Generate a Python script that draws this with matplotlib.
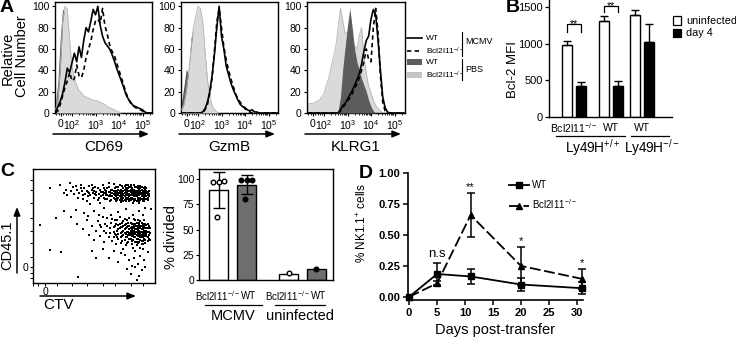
import numpy as np
import matplotlib
matplotlib.use("Agg")
import matplotlib.pyplot as plt
from matplotlib.lines import Line2D
from matplotlib.patches import Rectangle, FancyArrowPatch
from matplotlib import transforms

plt.rcParams.update({
    "font.family": ["Liberation Sans", "DejaVu Sans"],
    "mathtext.fontset": "custom",
    "mathtext.rm": "Liberation Sans",
    "mathtext.it": "Liberation Sans:italic",
    "mathtext.bf": "Liberation Sans:bold",
    "axes.linewidth": 1.0,
})

# ---------------------------------------------------------------- data
# A: flow histograms (% of max); x is the display position on the
# biexponential axis (2 -> 10^2, 3 -> 10^3, ...)
hist_u = np.round(np.arange(1.3, 5.45, 0.1), 2)

cd69_wt_mcmv = [1, 6, 11, 18, 29, 42, 38, 47, 56, 48,
                62, 52, 68, 80, 76, 86, 97, 92, 100, 82,
                72, 66, 63, 60, 55, 49, 42, 36, 30, 24,
                17, 13, 10, 7, 6, 5, 4, 3, 1, 0, 0, 0]
cd69_ko_mcmv = [0, 2, 8, 16, 24, 30, 38, 30, 32, 45,
                35, 33, 40, 52, 60, 67, 78, 86, 88, 84,
                98, 82, 74, 64, 58, 54, 47, 40, 33, 26,
                19, 13, 9, 7, 5, 4, 3, 2, 0, 0, 0, 0]
cd69_wt_pbs = [8, 30, 70, 98, 92, 70, 45, 30, 22, 18,
               15, 13, 12, 11, 10, 9, 8, 7, 6, 5,
               4, 3, 2, 1, 0, 0, 0, 0, 0, 0,
               0, 0, 0, 0, 0, 0, 0, 0, 0, 0, 0, 0]
cd69_ko_pbs = [3, 12, 40, 85, 100, 97, 68, 44, 32, 26,
               21, 19, 16, 15, 14, 13, 12, 12, 11, 10,
               9, 8, 6, 5, 4, 3, 2, 1, 0, 0,
               0, 0, 0, 0, 0, 0, 0, 0, 0, 0, 0, 0]

gzmb_wt_mcmv = [0, 0, 0, 0, 0, 0, 0, 0, 0, 1,
                4, 10, 20, 35, 55, 80, 100, 72, 60, 44,
                36, 28, 22, 17, 12, 8, 6, 5, 3, 2,
                3, 1, 1, 0, 0, 0, 0, 0, 0, 0, 0, 0]
gzmb_ko_mcmv = [0, 0, 0, 0, 0, 0, 0, 0, 0, 0,
                3, 8, 18, 33, 58, 85, 98, 80, 62, 50,
                40, 32, 25, 18, 13, 10, 7, 4, 2, 1,
                0, 0, 0, 0, 0, 0, 0, 0, 0, 0, 0, 0]
gzmb_wt_pbs = [10, 25, 41, 36, 70, 78, 85, 97, 96, 80,
               55, 30, 14, 6, 2, 0, 0, 0, 0, 0,
               0, 0, 0, 0, 0, 0, 0, 0, 0, 0,
               0, 0, 0, 0, 0, 0, 0, 0, 0, 0, 0, 0]
gzmb_ko_pbs = [3, 8, 20, 38, 60, 80, 90, 100, 98, 86,
               58, 32, 16, 7, 3, 1, 0, 0, 0, 0,
               0, 0, 0, 0, 0, 0, 0, 0, 0, 0,
               0, 0, 0, 0, 0, 0, 0, 0, 0, 0, 0, 0]

klrg1_wt_mcmv = [0, 0, 0, 0, 0, 0, 0, 0, 0, 0,
                 0, 0, 0, 0, 3, 7, 9, 13, 17, 21,
                 26, 31, 37, 46, 58, 68, 72, 88, 97, 92,
                 68, 40, 15, 5, 1, 0, 0, 0, 0, 0, 0, 0]
klrg1_ko_mcmv = [0, 0, 0, 0, 0, 0, 0, 0, 0, 0,
                 0, 0, 0, 0, 2, 5, 8, 11, 14, 18,
                 23, 27, 33, 40, 48, 60, 50, 48, 80, 98,
                 75, 35, 10, 2, 0, 0, 0, 0, 0, 0, 0, 0]
klrg1_wt_pbs = [0, 0, 0, 0, 0, 0, 0, 0, 0, 0,
                0, 0, 0, 2, 15, 42, 62, 82, 98, 80,
                60, 48, 40, 32, 26, 20, 12, 6, 2, 0,
                0, 0, 0, 0, 0, 0, 0, 0, 0, 0, 0, 0]
klrg1_ko_pbs = [8, 9, 9, 10, 11, 12, 15, 18, 26, 33,
                43, 52, 62, 80, 98, 86, 74, 76, 72, 67,
                63, 60, 72, 80, 52, 37, 25, 19, 12, 7,
                4, 2, 0, 0, 0, 0, 0, 0, 0, 0, 0, 0]

# B: Bcl-2 MFI
b_groups = ["Bcl2l11$^{-/-}$", "WT", "WT"]
bcl2_uninfected = [980, 1310, 1400]
bcl2_uninfected_sd = [65, 70, 68]
bcl2_day4 = [424, 424, 1030]
bcl2_day4_sd = [55, 73, 242]

# C (left): CTV vs CD45.1 events, display units 0-100
upper_events = [
    (14, 83), (22, 86), (25, 79), (27, 82), (28, 77), (30, 88), (31, 81), (33, 84), (34, 78), (35, 85),
    (36, 82), (37, 75), (38, 79), (39, 86), (40, 81), (41, 74), (42, 83), (43, 78), (44, 72), (45, 80),
    (45, 76), (46, 85), (47, 77), (47, 69), (48, 82), (49, 79), (49, 83), (50, 75), (51, 84), (52, 80),
    (52, 77), (53, 73), (54, 78), (55, 82), (55, 70), (56, 76), (57, 86), (57, 80), (58, 79), (58, 83),
    (59, 74), (60, 81), (60, 77), (61, 77), (61, 74), (62, 84), (62, 88), (63, 72), (63, 80), (64, 79),
    (64, 76), (65, 82), (66, 75), (66, 87), (66, 78), (67, 80), (67, 77), (68, 84), (68, 79), (69, 73),
    (69, 78), (70, 79), (70, 82), (70, 75), (71, 76), (71, 86), (71, 81), (72, 80), (72, 71), (72, 78),
    (73, 85), (73, 78), (73, 76), (74, 75), (74, 81), (74, 78), (75, 79), (75, 73), (75, 82), (76, 83),
    (76, 77), (76, 72), (76, 79), (77, 80), (77, 74), (77, 77), (78, 78), (78, 86), (78, 81), (79, 72),
    (79, 81), (79, 76), (80, 77), (80, 84), (80, 80), (80, 73), (81, 75), (81, 79), (81, 83), (82, 82),
    (82, 70), (82, 77), (83, 78), (83, 74), (83, 86), (83, 80), (84, 81), (84, 76), (84, 73), (84, 78),
    (85, 79), (85, 84), (85, 72), (85, 76), (86, 77), (86, 81), (86, 75), (86, 83), (87, 75), (87, 80),
    (87, 78), (87, 72), (88, 78), (88, 83), (88, 73), (88, 80), (89, 79), (89, 76), (89, 82), (89, 74),
    (90, 81), (90, 74), (90, 77), (91, 78), (91, 83), (91, 72), (91, 75), (92, 76), (92, 80), (92, 82),
    (93, 74), (93, 79), (93, 83), (94, 77), (94, 80), (95, 81),
    (56, 80), (57, 77), (58, 75), (59, 82), (60, 79), (61, 83), (62, 76), (62, 80), (63, 77), (64, 82),
    (64, 73), (65, 79), (65, 76), (66, 81), (67, 74), (67, 83), (68, 76), (68, 81), (69, 80), (69, 75),
    (70, 77), (70, 84), (71, 79), (71, 73), (72, 82), (72, 75), (73, 80), (73, 73), (74, 83), (74, 77),
    (75, 76), (75, 85), (76, 81), (76, 75), (77, 79), (77, 82), (78, 75), (78, 83), (79, 78), (79, 84),
    (80, 75), (80, 82), (81, 77), (81, 81), (82, 79), (82, 74), (83, 76), (83, 82), (84, 80), (84, 74),
    (85, 77), (85, 81), (86, 79), (86, 73), (87, 77), (87, 82), (88, 75), (88, 81), (89, 78), (89, 84),
    (90, 79), (90, 76), (91, 80), (91, 77), (92, 78), (92, 74), (93, 81), (93, 76), (94, 79), (94, 75),
    (95, 78), (95, 76), (88, 85), (84, 84), (80, 86), (76, 86), (92, 84), (86, 85), (68, 72), (74, 72),
    (79, 74), (83, 72), (87, 70), (90, 72), (94, 73), (46, 79), (50, 81), (53, 83), (54, 75), (51, 78),
    (44, 81), (41, 77), (39, 83), (48, 86),
]
lower_events = [
    (36, 52), (41, 47), (44, 55), (46, 42), (48, 50), (50, 38), (52, 46), (53, 54), (55, 41), (56, 49),
    (57, 58), (58, 36), (59, 52), (60, 44), (61, 57), (62, 40), (63, 48), (64, 53), (65, 37), (65, 56),
    (66, 45), (67, 50), (68, 42), (68, 34), (69, 55), (70, 39), (70, 47), (71, 52), (71, 58), (72, 44),
    (72, 35), (73, 49), (73, 41), (74, 54), (74, 46), (74, 30), (75, 38), (75, 51), (76, 43), (76, 48),
    (76, 33), (77, 40), (77, 55), (78, 45), (78, 50), (78, 36), (79, 42), (79, 47), (79, 57), (80, 53),
    (80, 39), (80, 44), (81, 49), (81, 41), (81, 34), (82, 46), (82, 52), (82, 38), (82, 31), (83, 43),
    (83, 48), (83, 56), (84, 40), (84, 45), (84, 50), (84, 36), (84, 28), (85, 42), (85, 47), (85, 53),
    (85, 33), (86, 44), (86, 39), (86, 49), (86, 55), (87, 41), (87, 46), (87, 51), (87, 36), (88, 43),
    (88, 48), (88, 38), (88, 54), (88, 31), (89, 45), (89, 40), (89, 50), (89, 34), (90, 42), (90, 47),
    (90, 37), (90, 52), (90, 30), (91, 44), (91, 39), (91, 49), (91, 55), (92, 41), (92, 46), (92, 35),
    (93, 43), (93, 48), (93, 51), (94, 40), (94, 45), (95, 42), (95, 50), (96, 38), (80, 48), (82, 42),
    (83, 51), (85, 45), (86, 41), (87, 48), (88, 45), (89, 42), (90, 44), (91, 46), (92, 43), (93, 46),
    (84, 47), (86, 46), (88, 40), (90, 49), (79, 44), (81, 45), (83, 45), (87, 43),
    (66, 49), (67, 43), (68, 52), (69, 46), (70, 43), (70, 51), (71, 48), (72, 40), (72, 49), (73, 45),
    (73, 53), (74, 42), (74, 50), (75, 44), (75, 47), (76, 40), (76, 52), (77, 45), (77, 49), (78, 42),
    (78, 53), (79, 39), (79, 50), (80, 46), (80, 42), (81, 52), (81, 47), (82, 44), (82, 49), (83, 40),
    (83, 46), (84, 43), (84, 52), (85, 39), (85, 50), (86, 47), (86, 42), (87, 44), (87, 53), (88, 41),
    (88, 50), (89, 47), (89, 37), (90, 45), (90, 40), (91, 42), (91, 51), (92, 48), (92, 38), (93, 41),
    (93, 44), (94, 48), (94, 37), (95, 45), (95, 39), (96, 44), (89, 53), (85, 36), (81, 37), (77, 35),
    (73, 37), (69, 40), (66, 40), (63, 44), (61, 50), (58, 46), (55, 51), (67, 55), (75, 56), (84, 55),
    (92, 52), (94, 52), (96, 48), (86, 35), (90, 34),
]
sparse_events = [
    (6, 51), (14, 29), (23, 27), (37, 5), (62, 22), (70, 18), (75, 25), (77, 12), (79, 20), (80, 8),
    (81, 15), (83, 22), (85, 3), (86, 17), (88, 24), (89, 11), (91, 20), (94, 27), (72, 26), (66, 28),
    (57, 30), (48, 28), (52, 22), (87, 6), (84, 14), (92, 14), (35, 64), (42, 61), (50, 63), (58, 66),
    (64, 60), (70, 62), (76, 65), (82, 60), (87, 63), (92, 66), (45, 59), (54, 60), (90, 60), (97, 65),
    (31, 58), (25, 63), (19, 57),
]

# C (right): % divided
div_labels = ["Bcl2l11$^{-/-}$", "WT", "Bcl2l11$^{-/-}$", "WT"]
div_mean = [89, 94.5, 6, 10.5]
div_sd = [18, 9.5, 0, 0]
div_points = [[97, 97, 98, 62], [99, 99, 99, 80], [6.5], [11]]
div_conditions = ["MCMV", "uninfected"]

# D: % NK1.1+ cells over time
days = [0, 5, 11, 20, 31]
wt_mean = [0.0, 0.185, 0.165, 0.10, 0.07]
wt_sem = [0.0, 0.085, 0.06, 0.055, 0.05]
ko_mean = [0.0, 0.11, 0.66, 0.25, 0.145]
ko_sem = [0.0, 0.02, 0.18, 0.15, 0.08]
d_signif = ["", "n.s", "**", "*", "*"]

# ---------------------------------------------------------------- layout helpers
W, H = 736, 338
fig = plt.figure(figsize=(W / 100, H / 100), dpi=100)


def rect(l, t, r, b):
    return [l / W, 1 - b / H, (r - l) / W, (b - t) / H]


def fx(x):
    return x / W


def fy(y):
    return 1 - y / H


def ftext(x, y, s, **kw):
    kw.setdefault("ha", "center")
    kw.setdefault("va", "center")
    return fig.text(fx(x), fy(y), s, **kw)


def fline(xs, ys, **kw):
    kw.setdefault("color", "k")
    kw.setdefault("lw", 0.9)
    fig.add_artist(Line2D([fx(x) for x in xs], [fy(y) for y in ys],
                          transform=fig.transFigure, **kw))


def farrow(x0, y0, x1, y1):
    fig.add_artist(FancyArrowPatch((fx(x0), fy(y0)), (fx(x1), fy(y1)),
                                   transform=fig.transFigure,
                                   arrowstyle="-|>,head_length=0.5,head_width=0.2",
                                   mutation_scale=10, lw=1.1, color="k",
                                   shrinkA=0, shrinkB=0))


LIGHT = "#dadada"
DARK = "#5c5c5c"
DOTTED = (0, (2.6, 2.0))

# ---------------------------------------------------------------- panel A
PX_PER_DECADE = 23.5
hist_sets = [
    ("CD69", 55, 152, cd69_wt_pbs, cd69_ko_pbs, cd69_wt_mcmv, cd69_ko_mcmv, False),
    ("GzmB", 181, 278, gzmb_wt_pbs, gzmb_ko_pbs, gzmb_wt_mcmv, gzmb_ko_mcmv, False),
    ("KLRG1", 307, 405, klrg1_wt_pbs, klrg1_ko_pbs, klrg1_wt_mcmv, klrg1_ko_mcmv, True),
]
minor_u = [1.33, 1.43, 1.63, 1.73, 1.83, 1.93] + \
    [d + np.log10(k) for d in (2, 3, 4) for k in range(2, 10)] + [5.3]
for name, l, r, wt_pbs, ko_pbs, wt_mcmv, ko_mcmv, dark_on_top in hist_sets:
    ax = fig.add_axes(rect(l, 2, r, 113))
    z_dark, z_light = (3, 2) if dark_on_top else (2, 3)
    ax.fill_between(hist_u, ko_pbs, color=LIGHT, lw=0, zorder=z_light)
    ax.plot(hist_u, ko_pbs, color="#b4b4b4", lw=0.6, zorder=z_light)
    ax.fill_between(hist_u, wt_pbs, color=DARK, lw=0, zorder=z_dark)
    ax.plot(hist_u, wt_mcmv, color="k", lw=1.2, zorder=5)
    ax.plot(hist_u, ko_mcmv, color="k", lw=1.2, ls=DOTTED, zorder=5)
    u0 = 2 - 17 / PX_PER_DECADE
    ax.set_xlim(u0, u0 + (r - l) / PX_PER_DECADE)
    ax.set_ylim(0, 104)
    ax.set_yticks(np.arange(0, 101, 20))
    ax.set_xticks([1.53, 2, 3, 4, 5])
    ax.set_xticklabels(["0", "10$^2$", "10$^3$", "10$^4$", "10$^5$"])
    ax.set_xticks(minor_u, minor=True)
    ax.tick_params(axis="both", labelsize=7.5, length=2.5, width=0.8, pad=1.5)
    ax.tick_params(axis="x", which="minor", length=1.5, width=0.6)
    farrow(l - 2, 134, l + 94, 134)
    ftext((l + r) / 2, 147, name, fontsize=11)

ftext(7, 8, "A", fontsize=14, fontweight="bold")
ftext(8, 58, "Relative", fontsize=10.5, rotation=90)
ftext(22, 56, "Cell Number", fontsize=10.5, rotation=90)

# legend of panel A
fline([407, 422], [38, 38], lw=1.2)
fline([407, 422], [51, 51], lw=1.2, ls=DOTTED)
fig.add_artist(Rectangle((fx(407), fy(65)), 15 / W, 6 / H, transform=fig.transFigure,
                         color=DARK, lw=0))
fig.add_artist(Rectangle((fx(407), fy(78)), 15 / W, 6 / H, transform=fig.transFigure,
                         color="#c4c4c4", lw=0))
for yy, lab in [(38, "WT"), (51, "Bcl2l11$^{-/-}$"), (62, "WT"), (75, "Bcl2l11$^{-/-}$")]:
    ftext(426, yy, lab, fontsize=6, ha="left")
fline([462, 462], [32, 56], lw=0.8)
fline([462, 462], [59, 80], lw=0.8)
ftext(465, 42, "MCMV", fontsize=6.5, ha="left")
ftext(465, 70, "PBS", fontsize=6.5, ha="left")

# ---------------------------------------------------------------- panel B
axb = fig.add_axes(rect(549, 0, 672, 117))
grp = np.array([0.0, 2.65, 4.85])
half = 0.5
bw = 0.72
ekw = dict(elinewidth=1.0, capsize=2.6, capthick=1.0, ecolor="k")
axb.bar(grp - half, bcl2_uninfected, bw, yerr=[np.zeros(3), bcl2_uninfected_sd],
        color="white", edgecolor="k", lw=1.0, error_kw=ekw, zorder=2)
axb.bar(grp + half, bcl2_day4, bw, yerr=[np.zeros(3), bcl2_day4_sd],
        color="black", edgecolor="k", lw=1.0, error_kw=ekw, zorder=2)
axb.set_xlim(-1.79, 7.0)
axb.set_ylim(0, 1600)
axb.set_yticks([0, 500, 1000, 1500])
axb.set_xticks([])
axb.spines[["top", "right"]].set_visible(False)
axb.tick_params(axis="y", labelsize=8, length=3, width=0.9, pad=1.5)
for gi, (lo, hi) in zip([0, 1], [(1168, 1268), (1442, 1518)]):
    x1, x2 = grp[gi] - half, grp[gi] + half
    axb.plot([x1, x1, x2, x2], [lo, hi, hi, lo], color="k", lw=0.9, clip_on=False)
    axb.text(grp[gi], hi - 40, "**", ha="center", va="baseline", fontsize=7.5)
btr = transforms.blended_transform_factory(axb.transData, fig.transFigure)
for g, lab in zip(grp, b_groups):
    axb.text(g, fy(128), lab, transform=btr, ha="center", va="center", fontsize=7.5)
for x1, x2, lab in [(-1.29, 3.64, "Ly49H$^{+/+}$"), (4.07, 6.79, "Ly49H$^{-/-}$")]:
    axb.add_artist(Line2D([x1, x2], [fy(136), fy(136)], transform=btr, color="k", lw=0.9,
                          clip_on=False))
    axb.text((x1 + x2) / 2 + 0.15, fy(148), lab, transform=btr, ha="center", va="center",
             fontsize=9.8)
ftext(513, 70, "Bcl-2 MFI", fontsize=9.5, rotation=90)
ftext(513, 8, "B", fontsize=14, fontweight="bold")
fig.add_artist(Rectangle((fx(673), fy(24.5)), 8 / W, 8 / H, transform=fig.transFigure,
                         facecolor="white", edgecolor="k", lw=0.9))
fig.add_artist(Rectangle((fx(673), fy(37)), 8 / W, 8 / H, transform=fig.transFigure,
                         facecolor="black", edgecolor="k", lw=0.9))
ftext(686, 20.5, "uninfected", fontsize=7.8, ha="left")
ftext(686, 33, "day 4", fontsize=7.8, ha="left")

# ---------------------------------------------------------------- panel C, dot plot
axc = fig.add_axes(rect(33, 169, 155, 283))
all_events = upper_events + lower_events + sparse_events
ctv = [e[0] for e in all_events]
cd45 = [e[1] for e in all_events]
axc.scatter(ctv, cd45, s=0.8, c="k", marker="s", linewidths=0)
axc.set_xlim(0, 100)
axc.set_ylim(0, 100)
axc.set_xticks([10])
axc.set_xticklabels(["0"])
axc.set_yticks([14])
axc.set_yticklabels(["0"])
axc.set_xticks([0, 4, 20, 32, 44, 57, 67, 80, 90], minor=True)
axc.set_yticks([4, 9, 23, 35, 46, 57, 70, 82, 90], minor=True)
axc.tick_params(labelsize=7.5, length=2.5, width=0.8, pad=0.5)
axc.tick_params(which="minor", length=2, width=0.7)
farrow(40, 296, 136, 296)
ftext(59, 305, "CTV", fontsize=11)
farrow(17, 273, 17, 207)
ftext(7, 245, "CD45.1", fontsize=10.5, rotation=90)
ftext(7, 171, "C", fontsize=14, fontweight="bold")

# ---------------------------------------------------------------- panel C, % divided
axp = fig.add_axes(rect(199, 169, 333, 280))
xpos = np.array([0.0, 1.0, 2.5, 3.5])
colors = ["white", "#6e6e6e", "white", "#6e6e6e"]
axp.bar(xpos, div_mean, 0.68, color=colors, edgecolor="k", lw=1.0, zorder=2)
axp.errorbar(xpos[:2], div_mean[:2], yerr=div_sd[:2], fmt="none", ecolor="k",
             elinewidth=1.0, capsize=4.5, capthick=1.0, zorder=3)
jitter = [[-0.2, 0.0, 0.18, -0.04], [-0.2, 0.0, 0.18, -0.04], [0.0], [0.0]]
for i, (pts, jit) in enumerate(zip(div_points, jitter)):
    filled = i % 2 == 1
    axp.scatter(xpos[i] + np.array(jit), pts, s=11, zorder=4,
                facecolor="k" if filled else "white", edgecolor="k", linewidths=1.0)
axp.set_xlim(-0.70, 4.09)
axp.set_ylim(0, 110)
axp.set_yticks([0, 25, 50, 75, 100])
axp.set_xticks([])
axp.tick_params(axis="y", labelsize=7.5, length=2.5, width=0.8, pad=1)
ptr = transforms.blended_transform_factory(axp.transData, fig.transFigure)
for x, lab in zip(xpos, div_labels):
    dx = 0.06 if lab == "WT" else -0.03
    axp.text(x + dx, fy(296), lab, transform=ptr, ha="center", va="center", fontsize=7)
for (x1, x2), lab in zip([(-0.48, 1.55), (2.02, 3.80)], div_conditions):
    axp.add_artist(Line2D([x1, x2], [fy(305), fy(305)], transform=ptr, color="k", lw=0.9,
                          clip_on=False))
    axp.text((x1 + x2) / 2, fy(316), lab, transform=ptr, ha="center", va="center",
             fontsize=10.5)
ftext(171, 237, "% divided", fontsize=10.5, rotation=90)

# ---------------------------------------------------------------- panel D
axd = fig.add_axes(rect(408, 173, 583, 300))
axd.plot(days, wt_mean, color="k", lw=1.3, marker="s", ms=4, clip_on=False, zorder=4,
         label="WT")
axd.plot(days, ko_mean, color="k", lw=1.3, ls=(0, (6, 2)), marker="^", ms=4.5,
         clip_on=False, zorder=4, label="Bcl2l11$^{-/-}$")
for mean, sem in [(wt_mean, wt_sem), (ko_mean, ko_sem)]:
    eb = axd.errorbar(days[1:], mean[1:], yerr=sem[1:], fmt="none", ecolor="k",
                      elinewidth=1.1, capsize=3, capthick=1.1, zorder=3)
    for art in list(eb.lines[1]) + list(eb.lines[2]):
        art.set_clip_on(False)
for d, m, s, txt in zip(days, ko_mean, ko_sem, d_signif):
    if txt == "n.s":
        axd.text(d, 0.30, txt, ha="center", va="bottom", fontsize=9.5)
    elif txt:
        axd.text(d, m + s + 0.01, txt, ha="center", va="bottom", fontsize=8)
axd.set_xlim(-0.2, 31.1)
axd.set_ylim(-0.025, 1.0)
axd.set_xticks([0, 5, 10, 15, 20, 25, 30])
axd.set_yticks([0, 0.25, 0.5, 0.75, 1.0])
axd.set_yticklabels(["0.00", "0.25", "0.50", "0.75", "1.00"])
axd.spines[["top", "right"]].set_visible(False)
axd.spines[["left", "bottom"]].set_linewidth(1.2)
axd.tick_params(labelsize=8, length=3.5, width=1.1, pad=2)
for lab in axd.get_xticklabels() + axd.get_yticklabels():
    lab.set_fontweight("bold")
axd.legend(loc="upper left", bbox_to_anchor=(fx(509), fy(180)), bbox_transform=fig.transFigure,
           frameon=False, fontsize=7, handlelength=2.1, handletextpad=0.3, labelspacing=0.75,
           borderpad=0, borderaxespad=0, numpoints=1)
ftext(495, 330, "Days post-transfer", fontsize=10.5)
ftext(362, 223, "% NK1.1$^{+}$ cells", fontsize=8.5, rotation=90)
ftext(366, 174, "D", fontsize=14, fontweight="bold")

fig.savefig("out.png", dpi=100)
